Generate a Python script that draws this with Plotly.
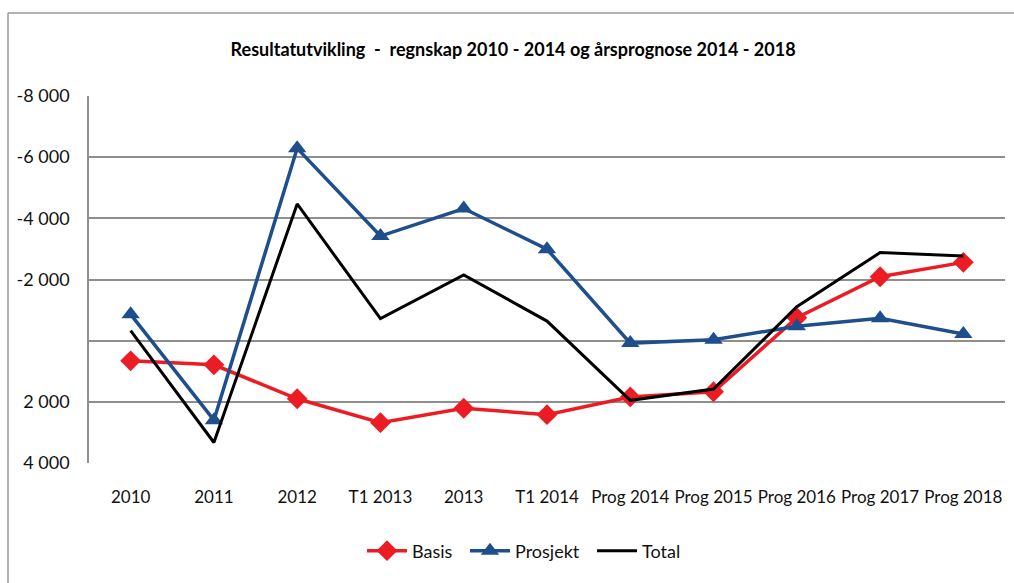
import plotly.graph_objects as go

categories = ["2010", "2011", "2012", "T1 2013", "2013", "T1 2014",
              "Prog 2014", "Prog 2015", "Prog 2016", "Prog 2017", "Prog 2018"]
basis = [660, 790, 1900, 2680, 2210, 2420, 1840, 1670, -750, -2090, -2560]
prosjekt = [-860, 2600, -6290, -3420, -4320, -2990, 80, -30, -470, -730, -220]
total = [-330, 3330, -4470, -720, -2150, -640, 1950, 1580, -1110, -2880, -2770]

ytick_vals = [-8000, -6000, -4000, -2000, 0, 2000, 4000]
ytick_text = ["-8 000", "-6 000", "-4 000", "-2 000", "", "2 000", "4 000"]

title_text = "Resultatutvikling  -  regnskap 2010 - 2014 og årsprognose 2014 - 2018"

RED = "#EC1C24"
BLUE = "#1F4E8C"
BLACK = "#000000"
FONT = "Lato, Roboto, sans-serif"

W, H = 1014, 583
L, R, T, B = 89, 9, 96, 120
pw = W - L - R
ph = H - T - B

def px_x(p):
    return (p - L) / pw

legend_y = -(551 - (T + ph)) / ph

fig = go.Figure()
fig.add_trace(go.Scatter(x=categories, y=basis, name="Basis", mode="lines+markers",
                         line=dict(color=RED, width=3.5),
                         marker=dict(symbol="diamond", size=16, color=RED),
                         legend="legend"))
fig.add_trace(go.Scatter(x=categories, y=prosjekt, name="Prosjekt", mode="lines+markers",
                         line=dict(color=BLUE, width=3.5),
                         marker=dict(symbol="triangle-up", size=16, color=BLUE),
                         legend="legend2"))
fig.add_trace(go.Scatter(x=categories, y=total, name="Total", mode="lines",
                         line=dict(color=BLACK, width=3),
                         legend="legend3"))

leg_common = dict(orientation="h", yanchor="middle", y=legend_y, xanchor="left",
                  font=dict(family=FONT, size=18, color="#111"),
                  itemwidth=40, bgcolor="rgba(0,0,0,0)")

fig.update_layout(
    width=W, height=H,
    margin=dict(l=L, r=R, t=T, b=B),
    paper_bgcolor="white", plot_bgcolor="white",
    font=dict(family=FONT, size=17, color="#1a1a1a"),
    title=dict(text="<b>" + title_text + "</b>", x=0.506, xanchor="center",
               y=1 - 50 / H, yanchor="middle", yref="container",
               font=dict(family=FONT, size=18, color="#000")),
    showlegend=True,
    legend=dict(x=px_x(362), **leg_common),
    legend2=dict(x=px_x(465), **leg_common),
    legend3=dict(x=px_x(592), **leg_common),
    xaxis=dict(type="category", categoryorder="array", categoryarray=categories,
               showgrid=False, showline=False, ticks="", ticklabelstandoff=22,
               tickfont=dict(family=FONT, size=17, color="#111"),
               range=[-0.5, len(categories) - 0.5], zeroline=False),
    yaxis=dict(range=[4000, -8000], tickvals=ytick_vals, ticktext=ytick_text,
               showgrid=True, gridcolor="#8E8E8E", gridwidth=1.5,
               showline=True, linecolor="#8E8E8E", linewidth=1.5,
               zeroline=False, ticks="", ticklabelstandoff=14,
               tickfont=dict(family=FONT, size=18, color="#111")),
)

# outer chart border (left and top edges visible)
fig.add_shape(type="line", xref="paper", yref="paper",
              x0=px_x(8), x1=px_x(W + 5),
              y0=1 + (T - 13) / ph, y1=1 + (T - 13) / ph,
              line=dict(color="#9A9A9A", width=1.5))
fig.add_shape(type="line", xref="paper", yref="paper",
              x0=px_x(8), x1=px_x(8),
              y0=1 + (T - 13) / ph, y1=-(H + 5 - T - ph) / ph,
              line=dict(color="#9A9A9A", width=1.5))

fig.write_html("out.html", config={"displayModeBar": False},
               post_script="document.body.style.margin='0';document.body.style.overflow='hidden';")
